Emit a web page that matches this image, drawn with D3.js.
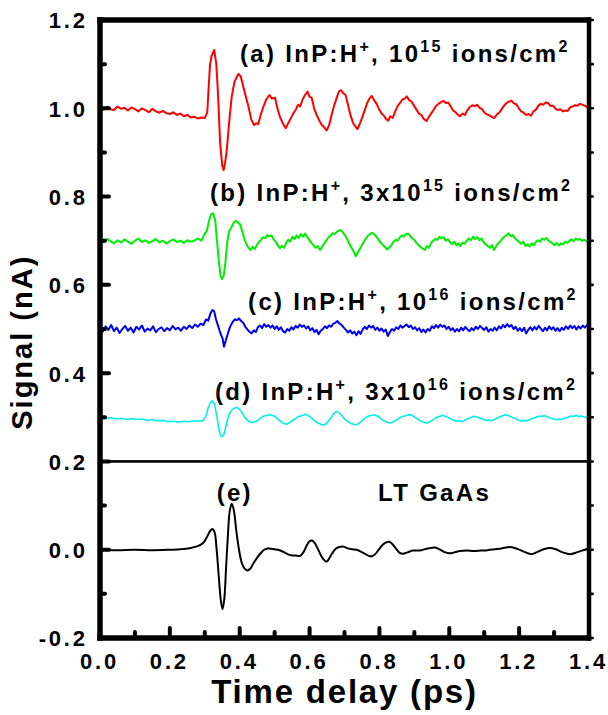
<!DOCTYPE html>
<html>
<head>
<meta charset="utf-8">
<script src="https://cdn.jsdelivr.net/npm/d3@7"></script>
<style>
    body { margin: 0; background: #fff; }
    svg text { font-family: "Liberation Sans", Arial, sans-serif; font-weight: bold; fill: #000; }
    .tick text { letter-spacing: 2.8px; }
</style>
</head>
<body>
<div id="chart"></div>
<script>
// time delay (ps), signal (nA)
const seriesA = [[0.00,1.000],[0.01,0.997],[0.02,1.003],[0.03,0.998],[0.04,0.996],[0.05,1.004],[0.06,0.999],[0.07,1.001],[0.08,0.995],[0.09,1.002],[0.10,0.998],[0.11,0.993],[0.12,1.000],[0.13,0.996],[0.14,0.991],[0.15,0.999],[0.16,0.993],[0.17,0.990],[0.18,0.994],[0.19,0.989],[0.20,0.987],[0.21,0.991],[0.22,0.985],[0.23,0.988],[0.24,0.982],[0.25,0.985],[0.26,0.979],[0.27,0.981],[0.28,0.977],[0.29,0.979],[0.30,0.978],[0.307,0.99],[0.315,1.10],[0.320,1.12],[0.327,1.132],[0.333,1.10],[0.338,1.03],[0.344,0.92],[0.350,0.87],[0.354,0.860],[0.358,0.875],[0.363,0.905],[0.370,0.97],[0.377,1.026],[0.385,1.06],[0.396,1.078],[0.403,1.072],[0.410,1.050],[0.418,1.025],[0.425,1.004],[0.433,0.975],[0.441,0.962],[0.447,0.966],[0.453,0.964],[0.460,0.985],[0.468,1.004],[0.476,1.020],[0.485,1.030],[0.492,1.022],[0.501,1.024],[0.508,1.000],[0.515,0.981],[0.522,0.968],[0.532,0.955],[0.540,0.968],[0.548,0.980],[0.553,0.988],[0.560,0.996],[0.567,1.008],[0.573,1.004],[0.580,1.020],[0.587,1.030],[0.594,1.038],[0.600,1.026],[0.606,1.024],[0.613,1.000],[0.620,0.985],[0.628,0.972],[0.635,0.962],[0.642,0.957],[0.649,0.950],[0.656,0.962],[0.663,0.985],[0.670,1.005],[0.677,1.022],[0.684,1.038],[0.690,1.041],[0.697,1.034],[0.703,1.030],[0.710,1.008],[0.717,0.985],[0.724,0.968],[0.730,0.960],[0.737,0.953],[0.744,0.965],[0.751,0.980],[0.758,0.996],[0.765,1.012],[0.771,1.022],[0.778,1.028],[0.785,1.018],[0.792,1.010],[0.799,0.998],[0.806,0.988],[0.813,0.983],[0.819,0.976],[0.825,0.972],[0.831,0.982],[0.838,0.978],[0.845,0.993],[0.852,1.005],[0.859,1.012],[0.866,1.020],[0.872,1.022],[0.878,1.027],[0.885,1.019],[0.892,1.015],[0.899,1.006],[0.906,0.997],[0.913,0.988],[0.920,0.985],[0.927,0.976],[0.935,0.971],[0.941,0.980],[0.948,0.988],[0.955,0.996],[0.962,1.005],[0.969,1.010],[0.976,1.014],[0.983,1.017],[0.990,1.012],[0.997,1.013],[1.004,1.004],[1.011,0.995],[1.018,0.991],[1.025,0.985],[1.031,0.982],[1.038,0.988],[1.045,0.985],[1.052,0.996],[1.059,1.003],[1.066,1.007],[1.073,1.005],[1.080,1.008],[1.087,1.001],[1.094,0.998],[1.101,0.990],[1.108,0.986],[1.115,0.984],[1.122,0.980],[1.129,0.978],[1.136,0.986],[1.143,0.990],[1.150,0.998],[1.157,1.006],[1.164,1.012],[1.171,1.015],[1.178,1.017],[1.185,1.011],[1.192,1.009],[1.199,1.000],[1.206,0.993],[1.213,0.990],[1.220,0.985],[1.227,0.987],[1.234,0.983],[1.241,0.993],[1.248,0.997],[1.255,1.006],[1.262,1.010],[1.269,1.008],[1.276,1.013],[1.283,1.012],[1.290,1.005],[1.297,1.006],[1.304,0.999],[1.311,0.996],[1.318,0.998],[1.325,0.993],[1.332,0.995],[1.339,0.994],[1.346,1.002],[1.353,1.004],[1.360,1.007],[1.367,1.006],[1.374,1.010],[1.381,1.008],[1.388,1.006],[1.394,1.003],[1.40,0.998]];

const seriesB = [[0.000,0.702],[0.010,0.697],[0.020,0.704],[0.030,0.699],[0.040,0.694],[0.050,0.701],[0.060,0.696],[0.070,0.703],[0.080,0.698],[0.090,0.693],[0.100,0.700],[0.110,0.705],[0.120,0.697],[0.130,0.701],[0.140,0.695],[0.150,0.699],[0.160,0.704],[0.170,0.696],[0.180,0.700],[0.190,0.694],[0.200,0.699],[0.210,0.703],[0.220,0.697],[0.230,0.700],[0.240,0.695],[0.250,0.701],[0.260,0.698],[0.270,0.700],[0.280,0.705],[0.290,0.700],[0.300,0.716],[0.306,0.722],[0.312,0.745],[0.318,0.760],[0.324,0.762],[0.330,0.745],[0.335,0.700],[0.340,0.655],[0.345,0.622],[0.349,0.613],[0.354,0.620],[0.359,0.650],[0.364,0.695],[0.370,0.722],[0.376,0.730],[0.382,0.740],[0.389,0.745],[0.395,0.741],[0.401,0.737],[0.407,0.722],[0.413,0.705],[0.419,0.692],[0.425,0.684],[0.431,0.679],[0.437,0.686],[0.443,0.681],[0.449,0.690],[0.455,0.697],[0.461,0.702],[0.467,0.708],[0.473,0.706],[0.479,0.713],[0.485,0.710],[0.491,0.712],[0.497,0.703],[0.503,0.698],[0.509,0.690],[0.515,0.683],[0.521,0.688],[0.527,0.684],[0.533,0.695],[0.539,0.702],[0.545,0.698],[0.551,0.709],[0.557,0.704],[0.563,0.712],[0.569,0.706],[0.575,0.715],[0.581,0.709],[0.587,0.716],[0.593,0.708],[0.599,0.702],[0.605,0.695],[0.611,0.690],[0.617,0.684],[0.623,0.688],[0.630,0.679],[0.636,0.686],[0.642,0.694],[0.648,0.700],[0.654,0.708],[0.660,0.712],[0.666,0.717],[0.672,0.715],[0.678,0.720],[0.684,0.723],[0.690,0.724],[0.696,0.718],[0.702,0.712],[0.708,0.703],[0.714,0.693],[0.720,0.684],[0.726,0.676],[0.732,0.665],[0.738,0.673],[0.744,0.681],[0.750,0.690],[0.756,0.698],[0.762,0.706],[0.768,0.712],[0.774,0.716],[0.780,0.718],[0.786,0.714],[0.792,0.708],[0.798,0.702],[0.804,0.695],[0.810,0.690],[0.816,0.686],[0.822,0.680],[0.828,0.684],[0.834,0.690],[0.840,0.697],[0.846,0.702],[0.852,0.700],[0.858,0.707],[0.864,0.712],[0.870,0.709],[0.876,0.715],[0.882,0.716],[0.888,0.711],[0.894,0.705],[0.900,0.702],[0.906,0.695],[0.912,0.690],[0.918,0.686],[0.924,0.682],[0.930,0.679],[0.936,0.688],[0.942,0.684],[0.948,0.695],[0.954,0.700],[0.960,0.704],[0.966,0.702],[0.972,0.709],[0.978,0.705],[0.984,0.708],[0.990,0.700],[0.996,0.703],[1.002,0.697],[1.008,0.692],[1.014,0.698],[1.020,0.690],[1.026,0.694],[1.032,0.688],[1.038,0.696],[1.044,0.693],[1.050,0.700],[1.056,0.705],[1.062,0.701],[1.068,0.709],[1.074,0.704],[1.080,0.708],[1.086,0.701],[1.092,0.705],[1.098,0.697],[1.104,0.692],[1.110,0.688],[1.116,0.684],[1.122,0.690],[1.128,0.679],[1.134,0.687],[1.140,0.694],[1.146,0.698],[1.152,0.705],[1.158,0.709],[1.164,0.712],[1.170,0.717],[1.176,0.710],[1.182,0.713],[1.188,0.706],[1.194,0.701],[1.200,0.697],[1.206,0.693],[1.212,0.698],[1.218,0.688],[1.224,0.692],[1.230,0.687],[1.236,0.694],[1.242,0.690],[1.248,0.697],[1.254,0.701],[1.260,0.698],[1.266,0.705],[1.272,0.702],[1.278,0.706],[1.284,0.700],[1.290,0.697],[1.296,0.693],[1.302,0.690],[1.308,0.695],[1.314,0.689],[1.320,0.694],[1.326,0.692],[1.332,0.698],[1.338,0.695],[1.344,0.700],[1.350,0.703],[1.356,0.699],[1.362,0.705],[1.368,0.702],[1.374,0.704],[1.380,0.700],[1.386,0.702],[1.392,0.699],[1.400,0.698]];

const seriesC = [[0.000,0.502],[0.008,0.494],[0.016,0.506],[0.024,0.498],[0.032,0.509],[0.040,0.495],[0.048,0.503],[0.056,0.491],[0.064,0.500],[0.072,0.507],[0.080,0.496],[0.088,0.503],[0.096,0.492],[0.104,0.505],[0.112,0.499],[0.120,0.508],[0.128,0.494],[0.136,0.501],[0.144,0.497],[0.152,0.506],[0.160,0.493],[0.168,0.500],[0.176,0.504],[0.184,0.495],[0.192,0.502],[0.200,0.497],[0.208,0.507],[0.216,0.499],[0.224,0.503],[0.232,0.496],[0.240,0.505],[0.248,0.500],[0.256,0.508],[0.264,0.502],[0.272,0.510],[0.280,0.505],[0.288,0.512],[0.296,0.509],[0.304,0.522],[0.310,0.519],[0.316,0.535],[0.322,0.543],[0.327,0.540],[0.332,0.522],[0.337,0.510],[0.342,0.497],[0.347,0.486],[0.351,0.478],[0.355,0.460],[0.359,0.471],[0.364,0.484],[0.369,0.497],[0.374,0.508],[0.380,0.516],[0.386,0.522],[0.392,0.520],[0.398,0.524],[0.404,0.518],[0.410,0.514],[0.416,0.505],[0.422,0.499],[0.428,0.494],[0.434,0.490],[0.440,0.497],[0.446,0.493],[0.452,0.504],[0.458,0.508],[0.464,0.502],[0.470,0.511],[0.476,0.505],[0.482,0.509],[0.488,0.503],[0.494,0.508],[0.500,0.500],[0.506,0.506],[0.512,0.498],[0.518,0.504],[0.524,0.495],[0.530,0.492],[0.536,0.500],[0.542,0.496],[0.548,0.504],[0.554,0.499],[0.560,0.507],[0.566,0.503],[0.572,0.510],[0.578,0.505],[0.584,0.508],[0.590,0.501],[0.596,0.506],[0.602,0.497],[0.608,0.502],[0.614,0.493],[0.620,0.498],[0.626,0.488],[0.632,0.496],[0.638,0.500],[0.644,0.506],[0.650,0.502],[0.656,0.508],[0.662,0.505],[0.668,0.512],[0.674,0.514],[0.680,0.518],[0.686,0.512],[0.692,0.509],[0.698,0.503],[0.704,0.498],[0.710,0.492],[0.716,0.497],[0.722,0.490],[0.728,0.494],[0.734,0.486],[0.740,0.495],[0.746,0.489],[0.752,0.499],[0.758,0.505],[0.764,0.500],[0.770,0.508],[0.776,0.503],[0.782,0.507],[0.788,0.498],[0.794,0.503],[0.800,0.496],[0.806,0.501],[0.812,0.494],[0.818,0.499],[0.824,0.484],[0.830,0.493],[0.836,0.500],[0.842,0.496],[0.848,0.504],[0.854,0.500],[0.860,0.508],[0.866,0.503],[0.872,0.507],[0.878,0.510],[0.884,0.504],[0.890,0.508],[0.896,0.500],[0.902,0.504],[0.908,0.497],[0.914,0.502],[0.920,0.493],[0.926,0.499],[0.932,0.492],[0.938,0.500],[0.944,0.496],[0.950,0.506],[0.956,0.502],[0.962,0.509],[0.968,0.503],[0.974,0.510],[0.980,0.505],[0.986,0.508],[0.992,0.500],[0.998,0.505],[1.004,0.497],[1.010,0.502],[1.016,0.494],[1.022,0.500],[1.028,0.495],[1.034,0.503],[1.040,0.497],[1.046,0.505],[1.052,0.499],[1.058,0.495],[1.064,0.502],[1.070,0.497],[1.076,0.505],[1.082,0.500],[1.088,0.507],[1.094,0.502],[1.100,0.498],[1.106,0.504],[1.112,0.494],[1.118,0.500],[1.124,0.496],[1.130,0.503],[1.136,0.497],[1.142,0.506],[1.148,0.501],[1.154,0.509],[1.160,0.504],[1.166,0.511],[1.172,0.505],[1.178,0.509],[1.184,0.500],[1.190,0.505],[1.196,0.496],[1.202,0.502],[1.208,0.495],[1.214,0.503],[1.220,0.490],[1.226,0.498],[1.232,0.504],[1.238,0.497],[1.244,0.505],[1.250,0.499],[1.256,0.507],[1.262,0.501],[1.268,0.495],[1.274,0.503],[1.280,0.497],[1.286,0.506],[1.292,0.499],[1.298,0.504],[1.304,0.496],[1.310,0.502],[1.316,0.495],[1.322,0.503],[1.328,0.498],[1.334,0.506],[1.340,0.500],[1.346,0.508],[1.352,0.502],[1.358,0.507],[1.364,0.499],[1.370,0.506],[1.376,0.501],[1.382,0.508],[1.388,0.503],[1.394,0.509],[1.400,0.501]];

const seriesD = [[0.000,0.298],[0.015,0.297],[0.030,0.299],[0.045,0.296],[0.060,0.298],[0.075,0.295],[0.090,0.297],[0.105,0.295],[0.120,0.296],[0.135,0.293],[0.150,0.295],[0.165,0.292],[0.180,0.293],[0.195,0.290],[0.210,0.291],[0.225,0.289],[0.240,0.291],[0.255,0.290],[0.270,0.292],[0.285,0.291],[0.295,0.293],[0.303,0.302],[0.310,0.322],[0.316,0.333],[0.322,0.337],[0.328,0.330],[0.334,0.305],[0.340,0.275],[0.345,0.260],[0.349,0.256],[0.354,0.260],[0.359,0.274],[0.365,0.295],[0.372,0.310],[0.379,0.318],[0.386,0.321],[0.393,0.322],[0.400,0.318],[0.407,0.310],[0.414,0.301],[0.421,0.294],[0.428,0.290],[0.435,0.288],[0.442,0.289],[0.449,0.292],[0.456,0.296],[0.463,0.300],[0.470,0.303],[0.477,0.304],[0.485,0.306],[0.492,0.304],[0.499,0.303],[0.506,0.298],[0.513,0.293],[0.520,0.289],[0.527,0.286],[0.534,0.284],[0.541,0.287],[0.548,0.291],[0.555,0.295],[0.562,0.298],[0.569,0.302],[0.576,0.303],[0.584,0.306],[0.592,0.306],[0.600,0.302],[0.608,0.297],[0.616,0.291],[0.624,0.287],[0.632,0.284],[0.640,0.282],[0.648,0.286],[0.656,0.293],[0.663,0.301],[0.670,0.309],[0.677,0.313],[0.684,0.311],[0.691,0.305],[0.698,0.298],[0.705,0.293],[0.712,0.289],[0.719,0.286],[0.727,0.284],[0.734,0.283],[0.741,0.286],[0.748,0.291],[0.755,0.296],[0.762,0.300],[0.769,0.303],[0.776,0.304],[0.783,0.306],[0.790,0.304],[0.797,0.302],[0.804,0.297],[0.811,0.293],[0.818,0.290],[0.825,0.288],[0.831,0.287],[0.838,0.289],[0.845,0.292],[0.852,0.296],[0.859,0.299],[0.866,0.302],[0.873,0.303],[0.880,0.305],[0.888,0.306],[0.895,0.304],[0.902,0.300],[0.909,0.296],[0.916,0.293],[0.923,0.290],[0.930,0.288],[0.937,0.287],[0.944,0.290],[0.951,0.293],[0.958,0.297],[0.965,0.300],[0.972,0.302],[0.979,0.304],[0.986,0.303],[0.993,0.301],[1.000,0.298],[1.007,0.295],[1.014,0.293],[1.021,0.291],[1.028,0.292],[1.035,0.290],[1.042,0.292],[1.049,0.295],[1.056,0.297],[1.063,0.300],[1.070,0.302],[1.077,0.301],[1.084,0.299],[1.091,0.297],[1.098,0.295],[1.105,0.293],[1.112,0.294],[1.119,0.292],[1.126,0.294],[1.133,0.297],[1.140,0.299],[1.147,0.302],[1.154,0.304],[1.161,0.306],[1.168,0.304],[1.175,0.302],[1.182,0.299],[1.189,0.297],[1.196,0.294],[1.203,0.293],[1.210,0.291],[1.217,0.293],[1.224,0.292],[1.231,0.295],[1.238,0.297],[1.245,0.299],[1.252,0.301],[1.259,0.303],[1.266,0.302],[1.273,0.304],[1.280,0.301],[1.287,0.299],[1.294,0.297],[1.301,0.296],[1.308,0.294],[1.315,0.296],[1.322,0.295],[1.329,0.297],[1.336,0.299],[1.343,0.301],[1.350,0.303],[1.357,0.302],[1.364,0.304],[1.371,0.302],[1.378,0.303],[1.385,0.301],[1.392,0.300],[1.400,0.297]];

const seriesE = [[0.000,0.000],[0.050,-0.001],[0.100,0.000],[0.150,-0.001],[0.200,0.000],[0.230,0.001],[0.260,0.004],[0.280,0.008],[0.295,0.015],[0.305,0.027],[0.315,0.042],[0.322,0.047],[0.328,0.040],[0.334,0.000],[0.340,-0.060],[0.346,-0.115],[0.351,-0.135],[0.356,-0.110],[0.361,-0.040],[0.366,0.030],[0.371,0.085],[0.377,0.104],[0.383,0.090],[0.390,0.045],[0.398,0.000],[0.406,-0.030],[0.414,-0.043],[0.422,-0.047],[0.430,-0.043],[0.440,-0.030],[0.450,-0.018],[0.460,-0.008],[0.470,0.000],[0.480,0.003],[0.490,0.002],[0.500,0.001],[0.510,0.000],[0.520,-0.003],[0.530,-0.007],[0.540,-0.011],[0.550,-0.013],[0.560,-0.013],[0.573,-0.014],[0.583,-0.005],[0.592,0.010],[0.600,0.019],[0.607,0.021],[0.615,0.015],[0.623,0.003],[0.632,-0.012],[0.640,-0.022],[0.649,-0.027],[0.656,-0.020],[0.665,-0.008],[0.675,0.002],[0.685,0.006],[0.697,0.007],[0.710,0.003],[0.722,0.001],[0.735,0.000],[0.748,-0.005],[0.760,-0.010],[0.770,-0.014],[0.778,-0.015],[0.788,-0.010],[0.798,0.000],[0.808,0.010],[0.818,0.016],[0.828,0.018],[0.838,0.012],[0.848,0.002],[0.858,-0.007],[0.868,-0.009],[0.880,-0.006],[0.895,-0.002],[0.907,-0.002],[0.920,-0.001],[0.935,0.002],[0.948,0.004],[0.960,0.005],[0.972,0.001],[0.985,-0.005],[1.000,-0.008],[1.015,-0.006],[1.030,-0.003],[1.050,-0.002],[1.070,-0.003],[1.090,-0.002],[1.110,-0.001],[1.130,0.001],[1.150,0.003],[1.174,0.006],[1.195,0.002],[1.215,-0.005],[1.236,-0.010],[1.255,-0.004],[1.270,0.001],[1.288,0.004],[1.305,0.001],[1.325,-0.006],[1.346,-0.010],[1.365,-0.006],[1.380,-0.002],[1.393,0.001],[1.400,0.004]];

const xMajor = [0, 0.2, 0.4, 0.6, 0.8, 1.0, 1.2, 1.4];
const xMinor = [0.1, 0.3, 0.5, 0.7, 0.9, 1.1, 1.3];
const yMajor = [-0.2, 0, 0.2, 0.4, 0.6, 0.8, 1.0, 1.2];
const yMinor = [-0.1, 0.1, 0.3, 0.5, 0.7, 0.9, 1.1];
const dividerLevel = 0.2;

// label text pieces: [text, superscript?]
const labels = [
    {t: 0.401, v: 1.105, parts: [["(a) InP:H", false], ["+", true], [", 10", false], ["15", true], [" ions/cm", false], ["2", true]]},
    {t: 0.315, v: 0.791, parts: [["(b) InP:H", false], ["+", true], [", 3x10", false], ["15", true], [" ions/cm", false], ["2", true]]},
    {t: 0.424, v: 0.543, parts: [["(c) InP:H", false], ["+", true], [", 10", false], ["16", true], [" ions/cm", false], ["2", true]]},
    {t: 0.329, v: 0.339, parts: [["(d) InP:H", false], ["+", true], [", 3x10", false], ["16", true], [" ions/cm", false], ["2", true]]},
    {t: 0.334, v: 0.111, parts: [["(e)", false]]},
    {t: 0.796, v: 0.111, parts: [["LT GaAs", false]]}
];

const curves = [
    {data: seriesA, color: "#ff0000", width: 2, smooth: false},
    {data: seriesB, color: "#00ee00", width: 2, smooth: false},
    {data: seriesC, color: "#0000ee", width: 2, smooth: false},
    {data: seriesD, color: "#00eeee", width: 1.6, smooth: false},
    {data: seriesE, color: "#000000", width: 2, smooth: true}
];

const margin = {top: 20, right: 19, bottom: 77, left: 100};
const W = 608, H = 715;
const width = W - margin.left - margin.right;
const height = H - margin.top - margin.bottom;

const x = d3.scaleLinear().domain([0, 1.4]).range([0, width]);
const y = d3.scaleLinear().domain([-0.2, 1.2]).range([height, 0]);

const svg = d3.select("#chart").append("svg")
    .attr("width", W).attr("height", H);
const g = svg.append("g").attr("transform", `translate(${margin.left},${margin.top})`);

// curves
curves.forEach(c => {
    let line = d3.line().x(d => x(d[0])).y(d => y(d[1]))
        .curve(c.smooth ? d3.curveCatmullRom : d3.curveLinear);
    g.append("path").datum(c.data)
        .attr("fill", "none")
        .attr("stroke", c.color)
        .attr("stroke-width", c.width)
        .attr("stroke-linejoin", "round")
        .attr("d", line);
});

// divider between InP and GaAs panels
g.append("rect")
    .attr("x", 0).attr("width", width)
    .attr("y", y(dividerLevel) - 1.3).attr("height", 2.6)
    .attr("fill", "#000");

// labels
labels.forEach(l => {
    let txt = g.append("text")
        .attr("x", x(l.t)).attr("y", y(l.v))
        .style("font-size", "24px")
        .style("letter-spacing", "2.3px");
    let raised = false;
    l.parts.forEach(p => {
        let ts = txt.append("tspan").text(p[0]);
        if (p[1]) {
            ts.style("font-size", "16px").attr("dy", raised ? 0 : -10);
            raised = true;
        } else {
            if (raised) ts.attr("dy", 10);
            raised = false;
        }
    });
});

// tick labels through d3 axes (marks drawn separately below)
g.append("g")
    .call(d3.axisLeft(y).tickValues(yMajor).tickSize(0).tickPadding(15)
        .tickFormat(d => d.toFixed(1)))
    .call(a => a.select(".domain").remove())
    .call(a => a.selectAll("text").style("font-size", "22px").attr("dx", 2.8).attr("dy", "0.36em"));

g.append("g").attr("transform", `translate(0,${height})`)
    .call(d3.axisBottom(x).tickValues(xMajor).tickSize(0).tickPadding(15)
        .tickFormat(d => d.toFixed(1)))
    .call(a => a.select(".domain").remove())
    .call(a => a.selectAll("text").style("font-size", "22px").attr("dx", -1));

// tick marks, drawn as filled shapes: inward on left and bottom, short outward on right
const ticks = g.append("g").attr("fill", "#000");
ticks.selectAll(".ly").data(yMajor.map(v => [v, 11]).concat(yMinor.map(v => [v, 7])))
    .enter().append("rect")
    .attr("x", 0).attr("width", d => d[1])
    .attr("y", d => y(d[0]) - 2).attr("height", 4).attr("rx", 2);
ticks.selectAll(".bx").data(xMajor.map(v => [v, 12]).concat(xMinor.map(v => [v, 8])))
    .enter().append("rect")
    .attr("x", d => x(d[0]) - 2).attr("width", 4)
    .attr("y", d => height - d[1]).attr("height", d => d[1]).attr("rx", 2);
ticks.selectAll(".ry").data(yMajor.concat(yMinor))
    .enter().append("rect")
    .attr("x", width).attr("width", 5)
    .attr("y", d => y(d) - 1.3).attr("height", 2.6).attr("rx", 1.3);

// frame, as filled bars
const frame = g.append("g").attr("fill", "#000");
frame.append("rect").attr("x", -2.75).attr("y", -2.75).attr("width", width + 5).attr("height", 5.5);
frame.append("rect").attr("x", -2.75).attr("y", height - 2.75).attr("width", width + 5).attr("height", 5.5);
frame.append("rect").attr("x", -2.75).attr("y", -2.75).attr("width", 5.5).attr("height", height + 5.5);
frame.append("rect").attr("x", width - 2.25).attr("y", -2.75).attr("width", 4.5).attr("height", height + 5.5);

// axis titles
svg.append("text")
    .attr("transform", `translate(32,${margin.top + y(0.47)}) rotate(-90)`)
    .attr("text-anchor", "middle")
    .style("font-size", "29px").style("letter-spacing", "2px")
    .text("Signal (nA)");

svg.append("text")
    .attr("x", margin.left + x(0.7)).attr("y", 703)
    .attr("text-anchor", "middle")
    .style("font-size", "33px").style("letter-spacing", "1.8px")
    .text("Time delay (ps)");
</script>
</body>
</html>
